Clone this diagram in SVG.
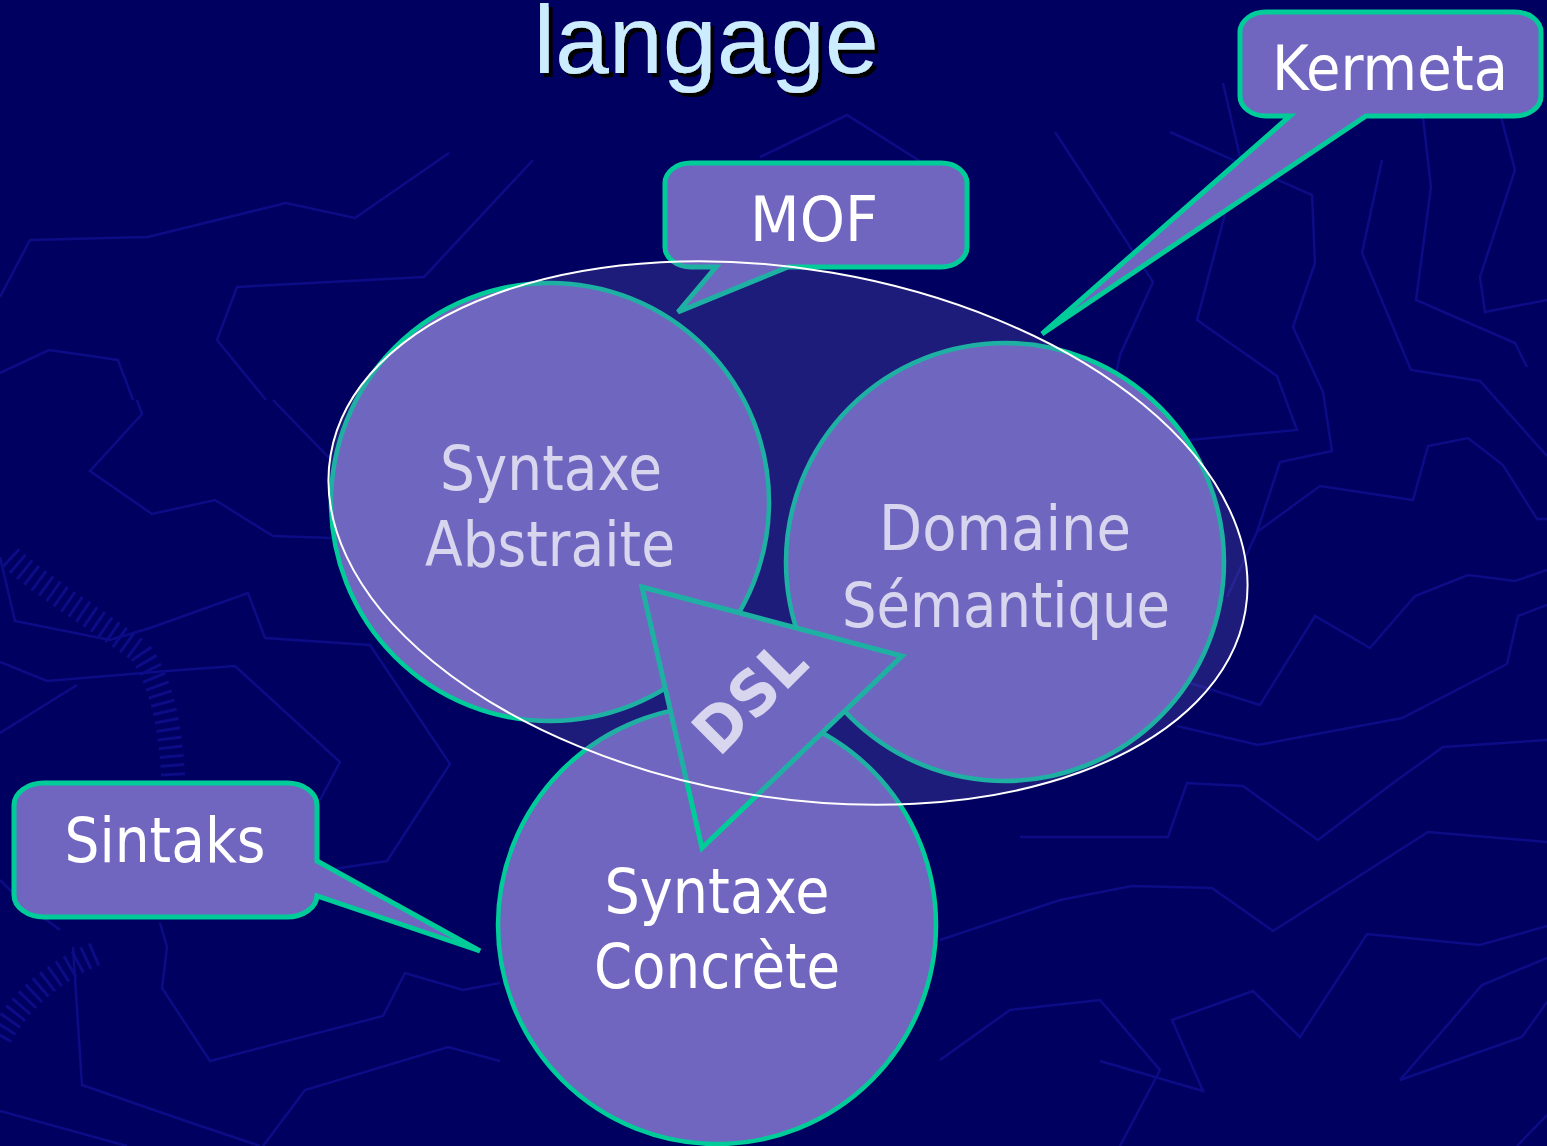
<svg xmlns="http://www.w3.org/2000/svg" width="1547" height="1146" viewBox="0 0 1547 1146">
  <style>
    .bg { fill: #000060; }
    .trace { fill: none; stroke: #0c0c86; stroke-width: 2.5; stroke-linejoin: miter; }
    .hatch { fill: none; stroke: #0c0c86; stroke-width: 24; stroke-dasharray: 3 6; }
    .bubble { fill: #7066c0; stroke: #00cc99; stroke-width: 4.5; }
    .callout { fill: #7066c0; stroke: #00cc99; stroke-width: 5; stroke-linejoin: miter; }
    .label { font-family: "DejaVu Sans", Verdana, sans-serif; font-size: 62px; fill: #ffffff; text-anchor: middle; }
    .title { font-family: "Liberation Sans", Arial, sans-serif; font-size: 97px; text-anchor: middle; fill: #ccecff; }
    .scope { fill: #7066c0; fill-opacity: 0.27; stroke: #ffffff; stroke-width: 2; }
  </style>
  <defs>
    <filter id="title-shadow" x="-5%" y="-10%" width="110%" height="130%">
      <feDropShadow dx="4" dy="4" stdDeviation="0" flood-color="#000000" flood-opacity="1"/>
    </filter>
  </defs>

  <!-- slide backdrop -->
  <rect class="bg" x="0" y="0" width="1547" height="1146"/>
  <g id="backdrop">
    <polyline class="trace" points="0,297 30,240 148,237 286,203 355,218 449,153"/>
    <polyline class="trace" points="266,400 217,340 237,287 424,277 533,160"/>
    <polyline class="trace" points="0,373 49,350 118,360 133,400"/>
    <polyline class="trace" points="760,157 847,115 918,160 945,190"/>
    <polyline class="trace" points="1055,132 1153,282 1120,355 1110,400"/>
    <polyline class="trace" points="1170,132 1312,195 1315,263 1293,327 1323,392 1332,451 1280,462 1257,532 1227,597"/>
    <polyline class="trace" points="1223,83 1240,157 1197,320 1277,376 1297,430 1190,440"/>
    <polyline class="trace" points="1382,160 1362,253 1411,370 1480,381 1547,456"/>
    <polyline class="trace" points="1421,100 1431,187 1416,300 1515,343 1527,367"/>
    <polyline class="trace" points="1500,113 1515,170 1480,277 1485,312 1547,300"/>
    <polyline class="trace" points="1257,532 1320,486 1413,500 1428,446 1468,438 1503,465 1537,519 1547,519"/>
    <polyline class="trace" points="1190,683 1260,705 1315,616 1370,648 1415,596 1468,575 1515,581 1547,570"/>
    <polyline class="trace" points="1177,726 1258,745 1402,718 1507,664 1518,616 1547,605"/>
    <polyline class="trace" points="1020,837 1168,837 1187,783 1243,786 1318,840 1393,783 1443,747 1547,740"/>
    <polyline class="trace" points="940,940 1060,900 1132,886 1212,888 1273,931 1428,832 1547,842"/>
    <polyline class="trace" points="1100,1061 1203,1091 1172,1020 1253,991 1300,1037 1367,934 1480,945 1547,926"/>
    <polyline class="trace" points="1400,1080 1482,985 1547,958"/>
    <polyline class="trace" points="1400,1080 1522,1037 1547,1002"/>
    <polyline class="trace" points="1517,1146 1547,1115"/>
    <polyline class="trace" points="940,1060 1010,1010 1100,1000 1160,1070 1120,1146"/>
    <polyline class="trace" points="137,400 142,414 90,471 152,514 215,500 273,536 333,538"/>
    <polyline class="trace" points="273,400 333,462"/>
    <polyline class="trace" points="0,557 15,621 110,640 150,628 248,593 265,638 370,645 450,764 387,861 320,871"/>
    <polyline class="trace" points="0,662 47,681 167,671 235,666 340,762 320,800"/>
    <polyline class="trace" points="0,733 77,685"/>
    <polyline class="trace" points="160,923 167,947 162,988 210,1061 383,1016 405,973 463,990 500,983"/>
    <polyline class="trace" points="73,947 82,1085 177,1118 260,1146"/>
    <polyline class="trace" points="0,1111 127,1146"/>
    <polyline class="trace" points="263,1146 305,1090 448,1047 500,1061"/>
    <polyline class="trace" points="0,880 20,900 60,930"/>
    <path class="hatch" d="M10,557 C40,585 90,615 140,652 C160,680 170,720 173,776"/>
    <path class="hatch" d="M0,1037 C20,1000 55,970 100,952"/>
  </g>

  <!-- title -->
  <g id="title">
    <text class="title" x="706" y="73" filter="url(#title-shadow)">langage</text>
  </g>

  <!-- three facets of a language -->
  <g id="syntaxe-abstraite">
    <circle class="bubble" cx="550" cy="502" r="219"/>
    <text class="label" x="551" y="490" textLength="222" lengthAdjust="spacingAndGlyphs">Syntaxe</text>
    <text class="label" x="550" y="566" textLength="250" lengthAdjust="spacingAndGlyphs">Abstraite</text>
  </g>
  <g id="domaine-semantique">
    <circle class="bubble" cx="1005" cy="562" r="219"/>
    <text class="label" x="1005" y="550" textLength="252" lengthAdjust="spacingAndGlyphs">Domaine</text>
    <text class="label" x="1006" y="627" textLength="328" lengthAdjust="spacingAndGlyphs">Sémantique</text>
  </g>
  <g id="syntaxe-concrete">
    <circle class="bubble" cx="717" cy="925" r="219"/>
    <text class="label" x="717" y="913" textLength="225" lengthAdjust="spacingAndGlyphs">Syntaxe</text>
    <text class="label" x="717" y="988" textLength="246" lengthAdjust="spacingAndGlyphs">Concrète</text>
  </g>

  <!-- DSL marker between the facets -->
  <g id="dsl">
    <polygon class="callout" points="642,587 902,656 702,848"/>
    <text class="label" x="0" y="0" transform="translate(765,712) rotate(-45)" font-weight="bold" textLength="130" lengthAdjust="spacingAndGlyphs">DSL</text>
  </g>

  <!-- tool callouts -->
  <g id="connectors">
    <g id="mof">
      <path class="callout" d="M691,163 H941 A26,20 0 0 1 967,183 V247 A26,20 0 0 1 941,267 H788 L678,312 L716,267 H691 A26,20 0 0 1 665,247 V183 A26,20 0 0 1 691,163 Z"/>
      <text class="label" x="814" y="241" textLength="128" lengthAdjust="spacingAndGlyphs">MOF</text>
    </g>
    <g id="kermeta">
      <path class="callout" d="M1266,12 H1515 A26,20 0 0 1 1541,32 V96 A26,20 0 0 1 1515,116 H1366 L1042,334 L1290,116 H1266 A26,20 0 0 1 1240,96 V32 A26,20 0 0 1 1266,12 Z"/>
      <text class="label" x="1390" y="90" textLength="236" lengthAdjust="spacingAndGlyphs">Kermeta</text>
    </g>
    <g id="sintaks">
      <path class="callout" d="M44,783 H287 A30,22 0 0 1 317,805 V861 L480,951 L317,896 A30,22 0 0 1 287,917 H44 A30,22 0 0 1 14,895 V805 A30,22 0 0 1 44,783 Z"/>
      <text class="label" x="165" y="862" textLength="201" lengthAdjust="spacingAndGlyphs">Sintaks</text>
    </g>
  </g>

  <!-- language scope overlay -->
  <g id="langage-scope">
    <ellipse class="scope" cx="788" cy="533" rx="464" ry="264" transform="rotate(9.7 788 533)"/>
  </g>
</svg>
